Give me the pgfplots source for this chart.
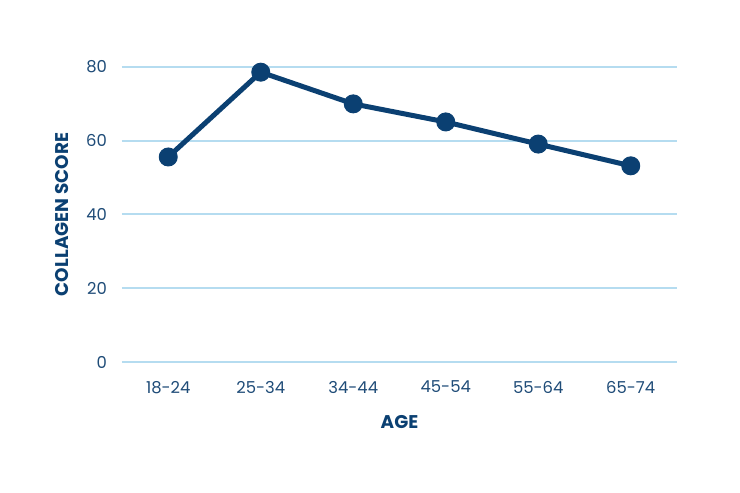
\documentclass[border=0pt]{standalone}
\usepackage{fontspec}
\setmainfont{Poppins}
\usepackage{pgfplots}
\pgfplotsset{compat=1.18}
\definecolor{navy}{HTML}{0B4072}
\definecolor{gridblue}{HTML}{B5DCF0}
\definecolor{ticktext}{HTML}{1F4C78}
\begin{document}
\begin{tikzpicture}
\path[use as bounding box, fill=white] (0,0) rectangle (370pt,246.5pt);
\begin{axis}[
    at={(61pt,65.5pt)}, anchor=south west,
    scale only axis,
    width=277.5pt, height=147.5pt,
    xmin=-0.5, xmax=5.5,
    ymin=0, ymax=80,
    clip=false,
    axis line style={draw=none},
    tick style={draw=none},
    ytick={0,20,40,60,80},
    xtick={0,...,5},
    xticklabels={18-24,25-34,34-44,45-54,55-64,65-74},
    ymajorgrids,
    grid style={gridblue, line width=1pt},
    ticklabel style={font=\fontsize{8.2}{9}\selectfont, text=ticktext},
    /pgf/number format/assume math mode=true,
    yticklabel style={xshift=-4pt},
    xticklabel style={yshift=-6pt},
    xlabel={\textbf{AGE}},
    ylabel={\textbf{COLLAGEN SCORE}},
    label style={font=\fontsize{9.2}{10}\selectfont, text=navy},
    xlabel style={yshift=-4pt},
    ylabel style={yshift=2pt},
]
\addplot[navy, line width=2.5pt, line join=round, mark=*, mark size=4.5pt,
    mark options={fill=navy, draw=navy, line width=0.5pt, solid}]
coordinates {
    (0, 55.6)
    (1, 78.6)
    (2, 70.0)
    (3, 65.1)
    (4, 59.1)
    (5, 53.2)
};
\end{axis}
\end{tikzpicture}
\end{document}
